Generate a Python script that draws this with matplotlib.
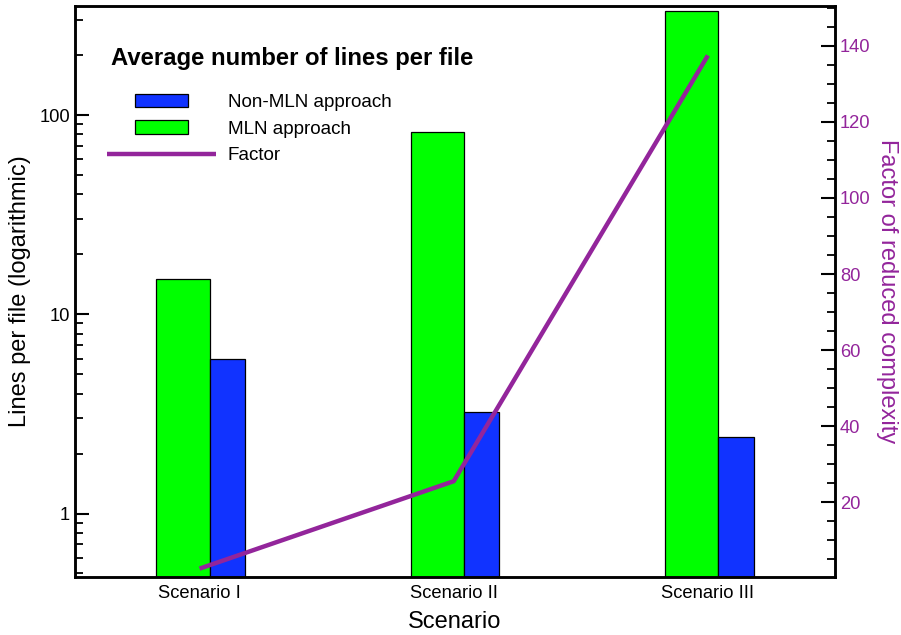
import matplotlib
matplotlib.use("Agg")
import matplotlib.pyplot as plt
import numpy as np
from matplotlib.patches import Rectangle
from matplotlib.legend_handler import HandlerBase
from matplotlib.ticker import LogLocator, FixedLocator, MultipleLocator, NullFormatter

plt.rcParams['font.family'] = ['Liberation Sans', 'DejaVu Sans']

scenarios = ["Scenario I", "Scenario II", "Scenario III"]
mln = [15.0, 82.0, 333.0]
non_mln = [6.0, 3.22, 2.42]
factor = [2.5, 25.5, 137.5]

GREEN = "#00FF00"
BLUE = "#1133FF"
PURPLE = "#93259B"

W, H = 901, 635
fig = plt.figure(figsize=(W / 100, H / 100), dpi=100)
L, R, T, B = 75, 835, 6, 577
ax = fig.add_axes([L / W, 1 - B / H, (R - L) / W, (B - T) / H])

x = np.arange(len(scenarios))
ax.bar(x - 0.17, mln, width=0.21, align='edge', color=GREEN, edgecolor='black',
       linewidth=0.9, label="MLN approach", zorder=2)
ax.bar(x + 0.04, non_mln, width=0.14, align='edge', color=BLUE, edgecolor='black',
       linewidth=0.9, label="Non-MLN approach", zorder=2)

ax.set_yscale('log')
ax.set_ylim(0.48, 353)
ax.set_xlim(-0.49, 2.5)
ax.set_xticks(x)
ax.set_xticklabels(scenarios)
ax.yaxis.set_major_locator(FixedLocator([1, 10, 100]))
ax.set_yticklabels(["1", "10", "100"])
ax.yaxis.set_minor_locator(LogLocator(base=10, subs=np.arange(2, 10)))
ax.yaxis.set_minor_formatter(NullFormatter())
ax.tick_params(axis='x', length=0, labelsize=13.2, pad=6)
ax.tick_params(axis='y', which='major', direction='in', length=10, width=1.5, labelsize=13.2)
ax.tick_params(axis='y', which='minor', direction='in', length=6, width=1.3)
ax.set_ylabel("Lines per file (logarithmic)", fontsize=17, labelpad=6)
ax.set_xlabel("Scenario", fontsize=17, labelpad=6)
for s in ax.spines.values():
    s.set_linewidth(1.8)

ax2 = ax.twinx()
ax2.plot(x, factor, color=PURPLE, linewidth=3.2, solid_capstyle='butt', label="Factor", zorder=3)
ax2.set_ylim(0.3, 150.5)
ax2.yaxis.set_major_locator(FixedLocator([20, 40, 60, 80, 100, 120, 140]))
ax2.yaxis.set_minor_locator(MultipleLocator(5))
ax2.tick_params(axis='y', which='major', direction='in', length=10, width=1.5,
                labelsize=13.2, labelcolor=PURPLE)
ax2.tick_params(axis='y', which='minor', direction='in', length=6, width=1.3)
ax2.set_ylabel("Factor of reduced complexity", fontsize=17, color=PURPLE,
               rotation=270, labelpad=20)
for s in ax2.spines.values():
    s.set_linewidth(1.8)


class NarrowPatch(HandlerBase):
    def __init__(self, frac, **kw):
        self.frac = frac
        super().__init__(**kw)

    def create_artists(self, legend, orig_handle, xdescent, ydescent, width, height, fontsize, trans):
        w = width * self.frac
        fc = orig_handle.patches[0].get_facecolor()
        p = Rectangle((-xdescent + (width - w) / 2, -ydescent), w, height,
                      facecolor=fc, edgecolor='black', linewidth=0.9)
        p.set_transform(trans)
        return [p]


h1, l1 = ax.get_legend_handles_labels()
h2, l2 = ax2.get_legend_handles_labels()
handles = [h1[1], h1[0], h2[0]]
labels = [l1[1], l1[0], l2[0]]
fs = 13.6
leg = ax2.legend(handles, labels, loc='upper left',
                 bbox_to_anchor=((107 - L) / (R - L), (B - 94) / (B - T)),
                 frameon=False, fontsize=fs, borderpad=0, borderaxespad=0,
                 handlelength=5.77, handletextpad=0.62, labelspacing=0.49,
                 handler_map={h1[0]: NarrowPatch(53 / 109), h1[1]: NarrowPatch(53 / 109)})

ax.text((111 - L) / (R - L), (B - 59) / (B - T), "Average number of lines per file",
        transform=ax.transAxes, fontsize=17.2, fontweight='bold', va='center', ha='left')

fig.savefig("out.png", dpi=100)
